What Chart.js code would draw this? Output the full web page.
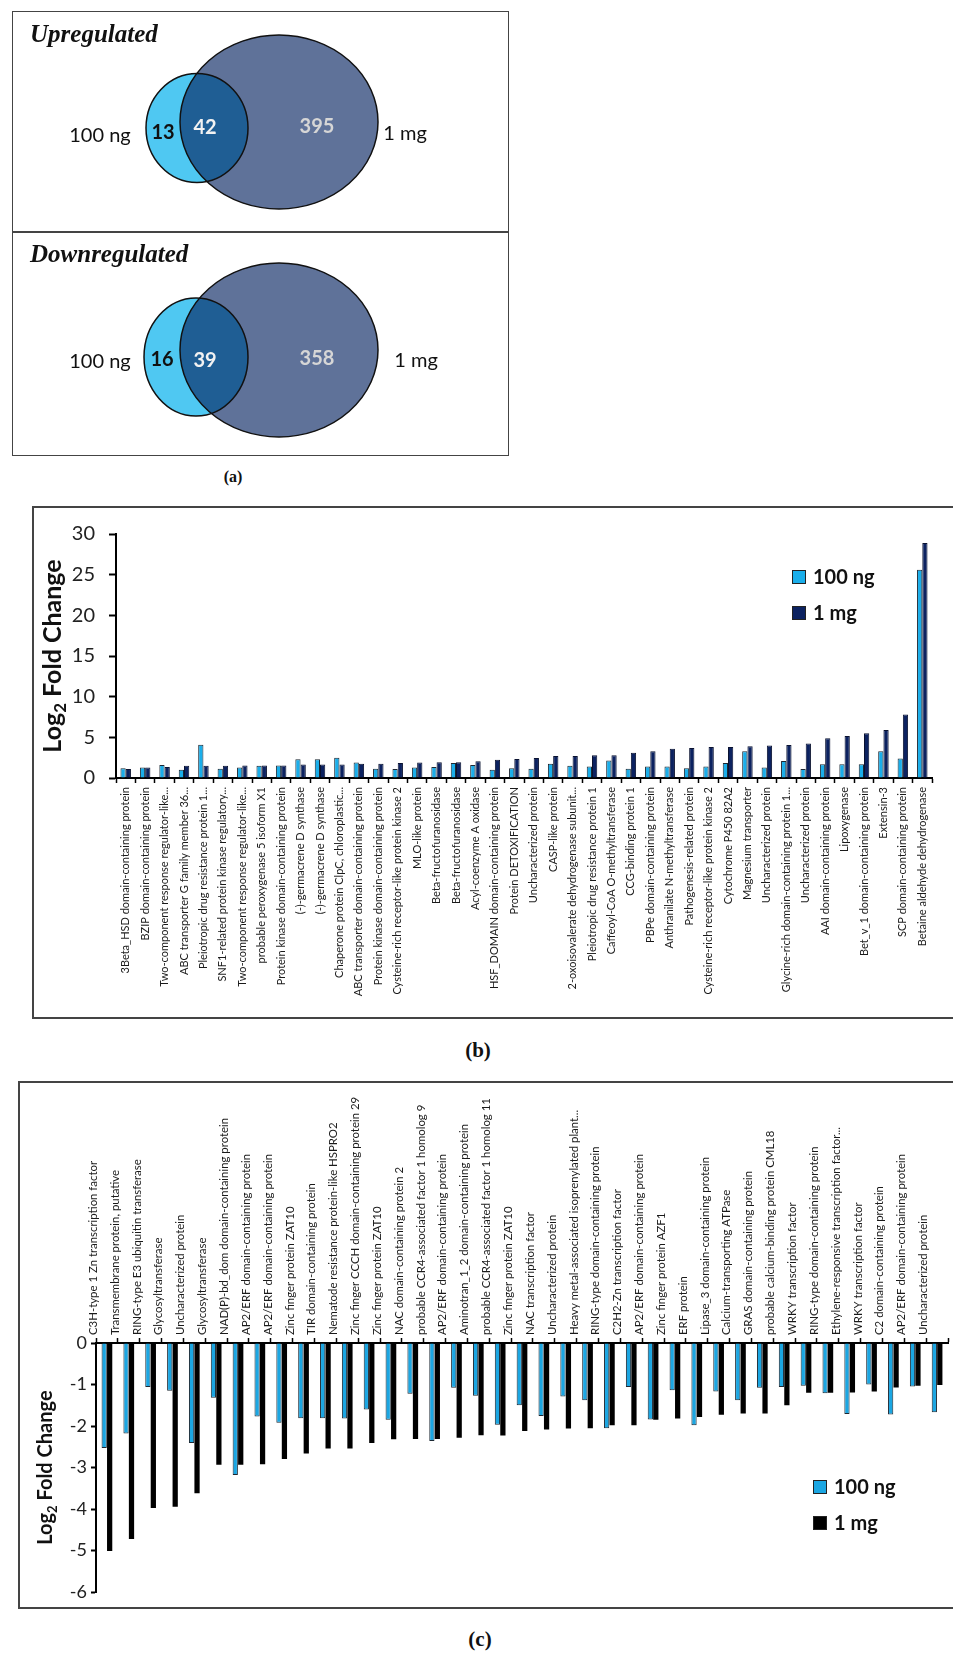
<!DOCTYPE html>
<html>
<head>
<meta charset="utf-8">
<script src="https://cdn.jsdelivr.net/npm/chart.js@4.4.1/dist/chart.umd.min.js"></script>
<style>
    body { margin: 0; background: #fff; width: 953px; height: 1653px; position: relative; overflow: hidden; }
    .box { position: absolute; border: 2px solid #444; box-sizing: border-box; }
    .cap { position: absolute; font-family: "Liberation Serif", serif; font-weight: bold; color: #111; transform: translateX(-50%); }
    canvas { position: absolute; }
</style>
</head>
<body>
<div class="box" style="left:12px; top:11px; width:497px; height:445px; border-width:1.5px;"></div>
<div style="position:absolute; left:12px; top:231px; width:497px; height:1.5px; background:#444;"></div>
<canvas id="vennUp" width="494" height="219" style="left:13px; top:12px;"></canvas>
<canvas id="vennDown" width="494" height="221" style="left:13px; top:233px;"></canvas>
<div class="cap" style="left:233px; top:468px; font-size:16px;">(a)</div>

<div class="box" style="left:32px; top:506px; width:940px; height:513px;"></div>
<canvas id="chartUp" width="920" height="509" style="left:33px; top:508px;"></canvas>
<div class="cap" style="left:478px; top:1038px; font-size:21px;">(b)</div>

<div class="box" style="left:18px; top:1081px; width:960px; height:528px;"></div>
<canvas id="chartDown" width="934" height="524" style="left:19px; top:1083px;"></canvas>
<div class="cap" style="left:480px; top:1627px; font-size:21px;">(c)</div>

<script>
document.addEventListener("DOMContentLoaded", function() {
    // Venn counts: only 100 ng, both, only 1 mg
    const vennSets = ["100 ng", "1 mg"];
    const upVenn = [13, 42, 395];
    const downVenn = [16, 39, 358];

    // (b) upregulated proteins
    const upLabels = [
        "3Beta_HSD domain-containing protein", "BZIP domain-containing protein",
        "Two-component response regulator-like...", "ABC transporter G family member 36...",
        "Pleiotropic drug resistance protein 1...", "SNF1-related protein kinase regulatory...",
        "Two-component response regulator-like...", "probable peroxygenase 5 isoform X1",
        "Protein kinase domain-containing protein", "(-)-germacrene D synthase",
        "(-)-germacrene D synthase", "Chaperone protein ClpC, chloroplastic...",
        "ABC transporter domain-containing protein", "Protein kinase domain-containing protein",
        "Cysteine-rich receptor-like protein kinase 2", "MLO-like protein",
        "Beta-fructofuranosidase", "Beta-fructofuranosidase", "Acyl-coenzyme A oxidase",
        "HSF_DOMAIN domain-containing protein", "Protein DETOXIFICATION", "Uncharacterized protein",
        "CASP-like protein", "2-oxoisovalerate dehydrogenase subunit...",
        "Pleiotropic drug resistance protein 1", "Caffeoyl-CoA O-methyltransferase",
        "CCG-binding protein 1", "PBPe domain-containing protein", "Anthranilate N-methyltransferase",
        "Pathogenesis-related protein", "Cysteine-rich receptor-like protein kinase 2",
        "Cytochrome P450 82A2", "Magnesium transporter", "Uncharacterized protein",
        "Glycine-rich domain-containing protein 1...", "Uncharacterized protein",
        "AAI domain-containing protein", "Lipoxygenase", "Bet_v_1 domain-containing protein",
        "Extensin-3", "SCP domain-containing protein", "Betaine aldehyde dehydrogenase"
    ];
    const up100ng = [1.2, 1.3, 1.6, 1.0, 4.1, 1.15, 1.3, 1.5, 1.55, 2.3, 2.3, 2.5, 1.9, 1.15, 1.1, 1.3, 1.35, 1.85, 1.6, 1.0,
        1.2, 1.15, 1.75, 1.5, 1.4, 2.15, 1.15, 1.4, 1.4, 1.2, 1.4, 1.85, 3.3, 1.3, 2.1, 1.1, 1.7, 1.7, 1.7, 3.3, 2.4, 25.6];
    const up1mg = [1.1, 1.3, 1.35, 1.5, 1.5, 1.5, 1.55, 1.55, 1.55, 1.65, 1.65, 1.65, 1.75, 1.75, 1.85, 1.9, 1.95, 1.95, 2.05, 2.25,
        2.35, 2.45, 2.7, 2.7, 2.8, 2.8, 3.1, 3.3, 3.6, 3.7, 3.8, 3.8, 3.9, 4.0, 4.05, 4.25, 4.9, 5.15, 5.5, 5.9, 7.8, 28.9];
    const upTicks = [0, 5, 10, 15, 20, 25, 30];

    // (c) downregulated proteins
    const downLabels = [
        "C3H-type 1 Zn transcription factor", "Transmembrane protein, putative",
        "RING-type E3 ubiquitin transferase", "Glycosyltransferase", "Uncharacterized protein",
        "Glycosyltransferase", "NAD(P)-bd_dom domain-containing protein", "AP2/ERF domain-containing protein",
        "AP2/ERF domain-containing protein", "Zinc finger protein ZAT10", "TIR domain-containing protein",
        "Nematode resistance protein-like HSPRO2", "Zinc finger CCCH domain-containing protein 29",
        "Zinc finger protein ZAT10", "NAC domain-containing protein 2",
        "probable CCR4-associated factor 1 homolog 9", "AP2/ERF domain-containing protein",
        "Aminotran_1_2 domain-containing protein", "probable CCR4-associated factor 1 homolog 11",
        "Zinc finger protein ZAT10", "NAC transcription factor", "Uncharacterized protein",
        "Heavy metal-associated isoprenylated plant...", "RING-type domain-containing protein",
        "C2H2-Zn transcription factor", "AP2/ERF domain-containing protein", "Zinc finger protein AZF1",
        "ERF protein", "Lipase_3 domain-containing protein", "Calcium-transporting ATPase",
        "GRAS domain-containing protein", "probable calcium-binding protein CML18", "WRKY transcription factor",
        "RING-type domain-containing protein", "Ethylene-responsive transcription factor...",
        "WRKY transcription factor", "C2 domain-containing protein", "AP2/ERF domain-containing protein",
        "Uncharacterized protein"
    ];
    const down100ng = [-2.53, -2.18, -1.06, -1.15, -2.41, -1.32, -3.18, -1.77, -1.92, -1.81,
        -1.81, -1.82, -1.60, -1.85, -1.22, -2.36, -1.08, -1.27, -1.97, -1.50,
        -1.76, -1.29, -1.38, -2.05, -1.06, -1.84, -1.14, -1.98, -1.17, -1.38,
        -1.08, -1.06, -1.03, -1.21, -1.71, -1.00, -1.72, -1.05, -1.67];
    const down1mg = [-5.01, -4.72, -3.97, -3.94, -3.62, -2.93, -2.93, -2.92, -2.79, -2.66,
        -2.54, -2.54, -2.41, -2.32, -2.31, -2.31, -2.28, -2.22, -2.23, -2.12,
        -2.08, -2.06, -2.05, -1.98, -1.98, -1.85, -1.82, -1.78, -1.73, -1.70,
        -1.70, -1.50, -1.20, -1.20, -1.19, -1.17, -1.07, -1.03, -1.01];
    const downTicks = [0, -1, -2, -3, -4, -5, -6];

    Chart.defaults.font.family = "Lato, 'Open Sans', sans-serif";
    Chart.defaults.color = "#222";

    // ---------- Venn diagrams (a) ----------
    const vennPlugin = {
        id: "venn",
        afterDatasetsDraw(chart, args, o) {
            const ctx = chart.ctx;
            const xs = chart.scales.x, ys = chart.scales.y;
            const shapes = chart.data.datasets.map((ds, i) => {
                const pt = chart.getDatasetMeta(i).data[0];
                const raw = ds.data[0];
                return {
                    x: pt.x, y: pt.y,
                    rx: Math.abs(xs.getPixelForValue(raw.x + raw.rx) - pt.x),
                    ry: Math.abs(ys.getPixelForValue(raw.y + raw.ry) - pt.y),
                    fill: ds.backgroundColor
                };
            });
            const ell = s => { ctx.beginPath(); ctx.ellipse(s.x, s.y, s.rx, s.ry, 0, 0, Math.PI * 2); };
            ctx.save();
            shapes.forEach(s => { ell(s); ctx.fillStyle = s.fill; ctx.fill(); });
            ctx.strokeStyle = "#111";
            ctx.lineWidth = 1.5;
            shapes.forEach(s => { ell(s); ctx.stroke(); });

            ctx.font = "bold italic 25px 'Liberation Serif', serif";
            ctx.fillStyle = "#111";
            ctx.textAlign = "left";
            ctx.fillText(o.title, 17, o.titleY);

            ctx.textAlign = "center";
            ctx.font = "20px Lato, sans-serif";
            ctx.fillStyle = "#111";
            ctx.fillText(vennSets[0], o.setPos[0][0], o.setPos[0][1]);
            ctx.fillText(vennSets[1], o.setPos[1][0], o.setPos[1][1]);

            ctx.font = "bold 20px Lato, sans-serif";
            const cols = ["#111", "#f2f2f2", "#d6d6d6"];
            o.counts.forEach((c, i) => {
                ctx.fillStyle = cols[i];
                ctx.fillText(String(c), o.countPos[i][0], o.countPos[i][1]);
            });
            ctx.restore();
        }
    };

    function vennChart(id, h, small, big, opts) {
        return new Chart(document.getElementById(id), {
            type: "scatter",
            data: {
                datasets: [
                    { data: [small], backgroundColor: "#4fc8f2", pointRadius: 0 },
                    { data: [big], backgroundColor: "rgba(4, 34, 96, 0.64)", pointRadius: 0 }
                ]
            },
            options: {
                responsive: false, animation: false,
                layout: { padding: 0 },
                plugins: { legend: { display: false }, tooltip: { enabled: false }, venn: opts },
                scales: {
                    x: { type: "linear", min: 0, max: 494, display: false },
                    y: { type: "linear", min: 0, max: h, reverse: true, display: false }
                }
            },
            plugins: [vennPlugin]
        });
    }

    vennChart("vennUp", 219,
        { x: 184, y: 116, rx: 51, ry: 54.5 },
        { x: 266, y: 110, rx: 99, ry: 87 },
        { title: "Upregulated", titleY: 30, counts: upVenn,
          setPos: [[87, 130], [392, 128]], countPos: [[150, 127], [192, 122], [304, 121]] });

    vennChart("vennDown", 221,
        { x: 183, y: 124, rx: 52, ry: 59 },
        { x: 266, y: 117, rx: 99, ry: 87 },
        { title: "Downregulated", titleY: 29, counts: downVenn,
          setPos: [[87, 135], [403, 134]], countPos: [[149, 133], [192, 134], [304, 132]] });

    // ---------- shared bar chart helpers ----------
    const yTitlePlugin = {
        id: "yTitle",
        afterDraw(chart, args, o) {
            const ctx = chart.ctx, ca = chart.chartArea;
            const cx = ca.left + o.dx, cy = (ca.top + ca.bottom) / 2;
            const big = `bold ${o.size}px Lato, sans-serif`;
            const small = `bold ${Math.round(o.size * 0.66)}px Lato, sans-serif`;
            ctx.save();
            ctx.translate(cx, cy);
            ctx.rotate(-Math.PI / 2);
            ctx.fillStyle = "#111";
            ctx.textBaseline = "middle";
            ctx.textAlign = "left";
            ctx.font = big;
            const wa = ctx.measureText("Log").width;
            const wc = ctx.measureText(" Fold Change").width;
            ctx.font = small;
            const wb = ctx.measureText("2").width;
            let x0 = -(wa + wb + wc) / 2;
            ctx.font = big;
            ctx.fillText("Log", x0, 0);
            ctx.font = small;
            ctx.fillText("2", x0 + wa, o.size * 0.32);
            ctx.font = big;
            ctx.fillText(" Fold Change", x0 + wa + wb, 0);
            ctx.restore();
        }
    };

    const boxLegend = {
        id: "boxLegend",
        afterDraw(chart, args, o) {
            const ctx = chart.ctx, ca = chart.chartArea;
            ctx.save();
            ctx.font = "bold 20px Lato, sans-serif";
            ctx.textBaseline = "middle";
            ctx.textAlign = "left";
            chart.data.datasets.forEach((ds, i) => {
                const yc = ca.top + o.top + i * o.gap;
                const xl = ca.right + o.right;
                ctx.fillStyle = ds.backgroundColor;
                ctx.fillRect(xl, yc - 7, 14, 14);
                ctx.strokeStyle = "#222";
                ctx.lineWidth = 1;
                ctx.strokeRect(xl + 0.5, yc - 6.5, 13, 13);
                ctx.fillStyle = "#111";
                ctx.fillText(ds.label, xl + 21, yc + 1);
            });
            ctx.restore();
        }
    };

    // ---------- (b) upregulated ----------
    new Chart(document.getElementById("chartUp"), {
        type: "bar",
        data: {
            labels: upLabels,
            datasets: [
                { label: "100 ng", data: up100ng, backgroundColor: "#1aaeea", borderColor: "#1c2833", borderWidth: 1,
                  categoryPercentage: 0.54, barPercentage: 1 },
                { label: "1 mg", data: up1mg, backgroundColor: "#0c2260", borderColor: "#0a1230", borderWidth: 1,
                  categoryPercentage: 0.54, barPercentage: 1 }
            ]
        },
        options: {
            responsive: false, animation: false,
            layout: { padding: { top: 20, right: 21, bottom: 8, left: 0 } },
            plugins: {
                legend: { display: false }, tooltip: { enabled: false },
                yTitle: { dx: -63, size: 25 },
                boxLegend: { right: -140, top: 43, gap: 36 }
            },
            scales: {
                x: {
                    grid: { drawOnChartArea: false, offset: true, color: "#000", tickLength: 5, tickWidth: 1.5 },
                    border: { color: "#000", width: 2 },
                    ticks: { autoSkip: false, maxRotation: 90, minRotation: 90, font: { size: 11 }, padding: 4, color: "#1a1a1a" },
                    afterFit(s) { s.height = 231; }
                },
                y: {
                    min: upTicks[0], max: upTicks[upTicks.length - 1],
                    afterBuildTicks(s) { s.ticks = upTicks.map(v => ({ value: v })); },
                    grid: { drawOnChartArea: false, color: "#000", tickLength: 7, tickWidth: 2 },
                    border: { color: "#000", width: 2 },
                    ticks: { font: { size: 20 }, padding: 14, color: "#222" },
                    afterFit(s) { s.width = 83; }
                }
            }
        },
        plugins: [yTitlePlugin, boxLegend]
    });

    // ---------- (c) downregulated ----------
    new Chart(document.getElementById("chartDown"), {
        type: "bar",
        data: {
            labels: downLabels,
            datasets: [
                { label: "100 ng", data: down100ng, backgroundColor: "#1ba6e2", borderColor: "#1c2833", borderWidth: 1,
                  categoryPercentage: 0.5, barPercentage: 0.96 },
                { label: "1 mg", data: down1mg, backgroundColor: "#000000", borderWidth: 0,
                  categoryPercentage: 0.5, barPercentage: 0.96 }
            ]
        },
        options: {
            responsive: false, animation: false,
            layout: { padding: { top: 5, right: 5, bottom: 8, left: 0 } },
            plugins: {
                legend: { display: false }, tooltip: { enabled: false },
                yTitle: { dx: -50, size: 20 },
                boxLegend: { right: -135, top: 144, gap: 36 }
            },
            scales: {
                x: {
                    position: "top",
                    grid: { drawOnChartArea: false, offset: true, color: "#000", tickLength: 5, tickWidth: 1.5 },
                    border: { color: "#000", width: 2 },
                    ticks: { autoSkip: false, maxRotation: 90, minRotation: 90, font: { size: 11.4 }, padding: 3, color: "#1a1a1a" },
                    afterFit(s) { s.height = 255; }
                },
                y: {
                    min: downTicks[downTicks.length - 1], max: downTicks[0],
                    afterBuildTicks(s) { s.ticks = downTicks.slice().reverse().map(v => ({ value: v })); },
                    grid: { drawOnChartArea: false, color: "#000", tickLength: 5, tickWidth: 2 },
                    border: { color: "#000", width: 2 },
                    ticks: { font: { size: 18 }, padding: 4, color: "#222" },
                    afterFit(s) { s.width = 77; }
                }
            }
        },
        plugins: [yTitlePlugin, boxLegend]
    });
});
</script>
</body>
</html>
